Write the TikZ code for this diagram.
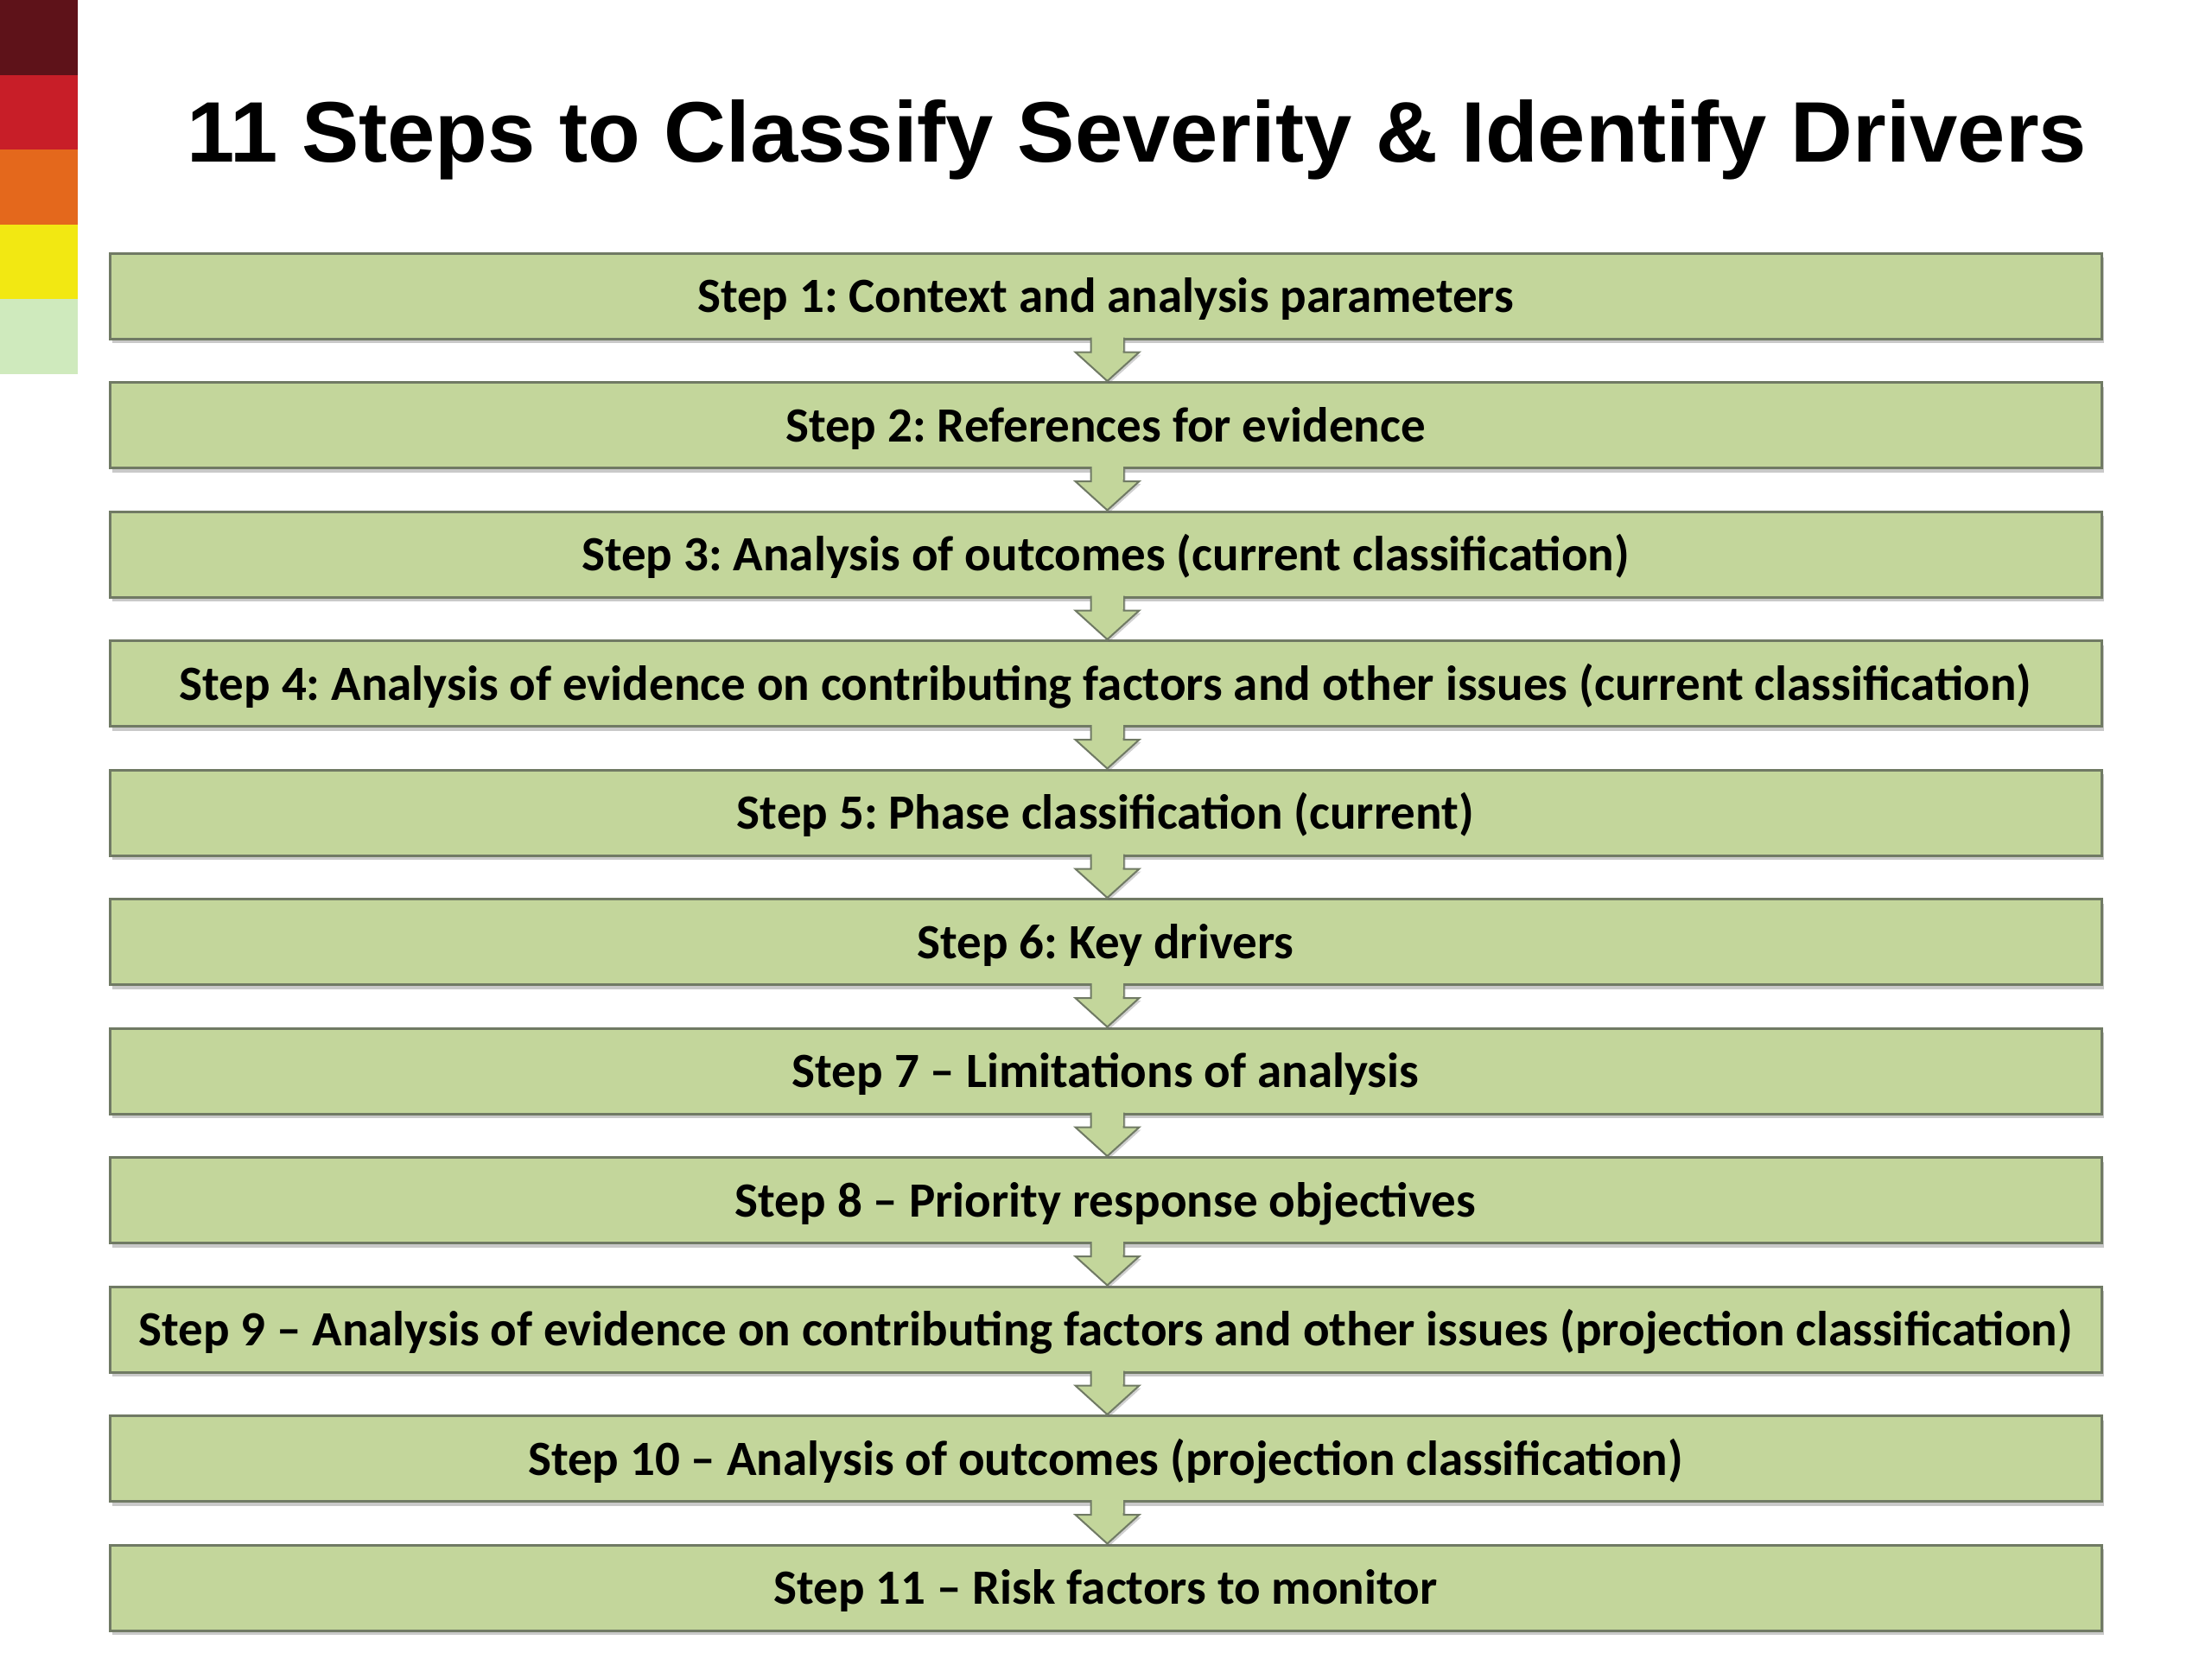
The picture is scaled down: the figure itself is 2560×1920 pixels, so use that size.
\documentclass[tikz,border=0pt]{standalone}
\usepackage{fontspec}
\setmainfont{Carlito}
\newfontfamily\titlefont{Liberation Sans}
\usetikzlibrary{shadows,calc}
\definecolor{boxfill}{RGB}{195,214,155}
\definecolor{boxline}{RGB}{112,122,100}
\definecolor{barA}{RGB}{94,18,25}
\definecolor{barB}{RGB}{200,30,40}
\definecolor{barC}{RGB}{228,104,28}
\definecolor{barD}{RGB}{242,232,18}
\definecolor{barE}{RGB}{207,234,189}
\frenchspacing
\tikzset{
  stepbox/.style={draw=boxline, line width=3pt, fill=boxfill,
    minimum width=2305pt, minimum height=99pt, inner sep=0pt,
    text height=42pt, text depth=4pt,
    font=\fontsize{57}{60}\selectfont\bfseries,
    drop shadow={shadow xshift=3pt, shadow yshift=-5pt, opacity=0.35, fill=black!60}},
  blockarrow/.style={draw=boxline, line width=2pt, fill=boxfill, line join=miter,
    drop shadow={shadow xshift=2pt, shadow yshift=-3pt, opacity=0.3, fill=black!60}},
}
\begin{document}
\begin{tikzpicture}[x=1pt,y=1pt]
\useasboundingbox (0,0) rectangle (2560,-1920);
\fill[white] (0,0) rectangle (2560,-1920);
% colour bar
\fill[barA] (0,0) rectangle (90,-86.6);
\fill[barB] (0,-86.6) rectangle (90,-173.2);
\fill[barC] (0,-173.2) rectangle (90,-259.8);
\fill[barD] (0,-259.8) rectangle (90,-346.4);
\fill[barE] (0,-346.4) rectangle (90,-433);
% title
\node[anchor=base, inner sep=0pt, font=\titlefont\fontsize{99.4}{110}\selectfont\bfseries] (title) at (1316,-187) {11 Steps to Classify Severity \& Identify Drivers};
% boxes
\foreach \i/\t in {1/{Step 1: Context and analysis parameters},
  2/{Step 2: References for evidence},
  3/{Step 3: Analysis of outcomes (current classification)},
  4/{Step 4: Analysis of evidence on contributing factors and other issues (current classification)},
  5/{Step 5: Phase classification (current)},
  6/{Step 6: Key drivers},
  7/{Step 7 – Limitations of analysis},
  8/{Step 8 – Priority response objectives},
  9/{Step 9 – Analysis of evidence on contributing factors and other issues (projection classification)},
  10/{Step 10 – Analysis of outcomes (projection classification)},
  11/{Step 11 – Risk factors to monitor}}
{
  \node[stepbox] (b\i) at (1279.5,{-(342.5+149.5*(\i-1))}) {\t};
}
% block arrows
\foreach \i [evaluate=\i as \j using int(\i+1)] in {1,...,10}
{
  \draw[blockarrow] ($(b\i.south)+(-17,3)$) -- ($(b\i.south)+(-17,-14)$) -- ($(b\i.south)+(-35,-14)$)
    -- ($(b\j.north)+(2,0)$) -- ($(b\i.south)+(39,-14)$) -- ($(b\i.south)+(21,-14)$) -- ($(b\i.south)+(21,3)$);
  \fill[boxfill] ($(b\i.south)+(-16,4)$) rectangle ($(b\i.south)+(20,-12)$);
}
\end{tikzpicture}
\end{document}
